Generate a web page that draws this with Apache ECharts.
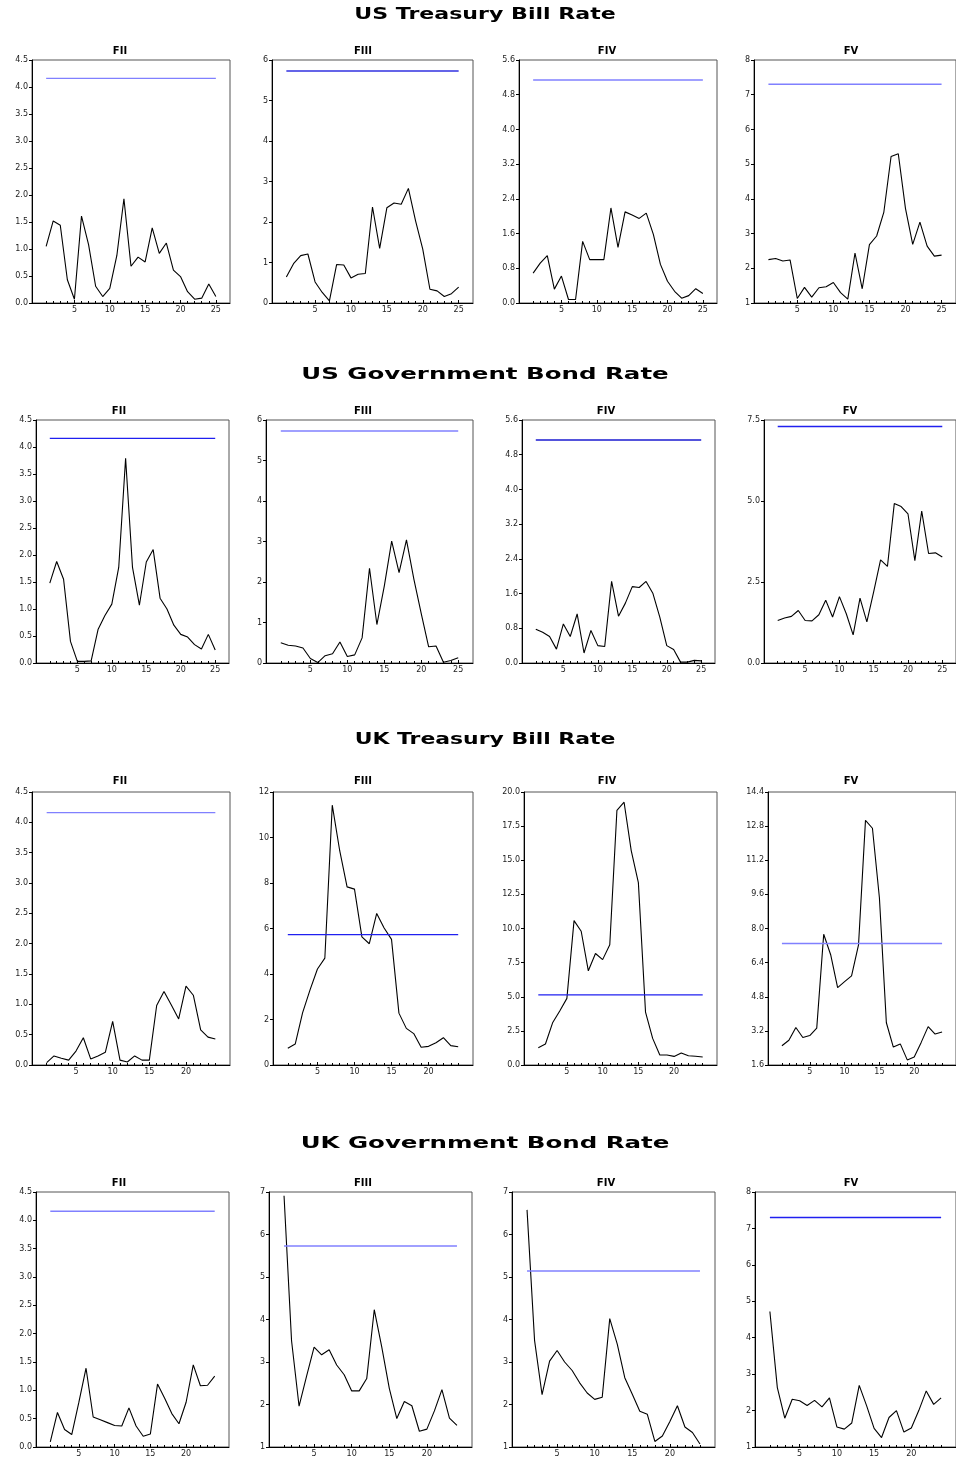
<!DOCTYPE html>
<html>
<head>
<meta charset="utf-8">
<script src="https://cdn.jsdelivr.net/npm/echarts@6/dist/echarts.min.js"></script>
<style>
html,body{margin:0;padding:0;background:#fff;}
#chart{width:956px;height:1458px;}
</style>
</head>
<body>
<div id="chart"></div>
<script>
// ---------------- DATA ----------------
const rowTitles = ['US Treasury Bill Rate', 'US Government Bond Rate', 'UK Treasury Bill Rate', 'UK Government Bond Rate'];
const panelNames = ['FII', 'FIII', 'FIV', 'FV'];

const periodsUS = [1,2,3,4,5,6,7,8,9,10,11,12,13,14,15,16,17,18,19,20,21,22,23,24,25];
const periodsUK = [1,2,3,4,5,6,7,8,9,10,11,12,13,14,15,16,17,18,19,20,21,22,23,24];

// critical values (horizontal reference line)
const criticalValues = [4.16, 5.73, 5.14, 7.30];

// US Treasury Bill Rate
const usTbFII  = [1.05,1.52,1.44,0.43,0.07,1.61,1.08,0.31,0.12,0.27,0.88,1.93,0.68,0.85,0.76,1.39,0.92,1.11,0.61,0.49,0.21,0.07,0.09,0.35,0.12];
const usTbFIII = [0.64,0.97,1.17,1.21,0.52,0.26,0.05,0.95,0.94,0.62,0.71,0.73,2.37,1.35,2.35,2.47,2.44,2.83,2.03,1.33,0.34,0.30,0.16,0.23,0.39];
const usTbFIV  = [0.69,0.92,1.09,0.32,0.62,0.08,0.08,1.42,1.00,1.00,1.00,2.19,1.28,2.10,2.03,1.95,2.07,1.58,0.89,0.50,0.27,0.11,0.17,0.33,0.22];
const usTbFV   = [2.25,2.28,2.21,2.24,1.13,1.45,1.17,1.44,1.47,1.59,1.30,1.11,2.44,1.41,2.68,2.93,3.62,5.22,5.30,3.72,2.69,3.33,2.64,2.35,2.38];

// US Government Bond Rate
const usGbFII  = [1.48,1.88,1.55,0.40,0.03,0.03,0.04,0.62,0.88,1.09,1.77,3.79,1.77,1.07,1.87,2.10,1.20,1.00,0.70,0.53,0.48,0.34,0.26,0.53,0.24];
const usGbFIII = [0.50,0.44,0.42,0.37,0.11,0.01,0.18,0.23,0.52,0.16,0.20,0.62,2.34,0.95,1.90,3.01,2.23,3.04,2.07,1.22,0.40,0.42,0.02,0.06,0.13];
const usGbFIV  = [0.78,0.71,0.61,0.32,0.90,0.61,1.13,0.23,0.75,0.40,0.38,1.88,1.08,1.38,1.76,1.74,1.88,1.60,1.05,0.40,0.31,0.02,0.02,0.06,0.05];
const usGbFV   = [1.31,1.39,1.44,1.62,1.31,1.30,1.49,1.94,1.42,2.05,1.52,0.87,2.00,1.27,2.20,3.18,2.98,4.92,4.83,4.60,3.16,4.69,3.38,3.40,3.27];

// UK Treasury Bill Rate
const ukTbFII  = [0.04,0.15,0.11,0.08,0.23,0.45,0.10,0.15,0.21,0.72,0.08,0.05,0.15,0.08,0.08,0.98,1.21,0.99,0.76,1.30,1.15,0.58,0.46,0.43];
const ukTbFIII = [0.74,0.92,2.30,3.30,4.22,4.70,11.42,9.43,7.83,7.73,5.63,5.33,6.66,6.02,5.52,2.28,1.61,1.38,0.78,0.82,0.98,1.20,0.85,0.80];
const ukTbFIV  = [1.27,1.54,3.09,3.96,4.88,10.58,9.80,6.90,8.17,7.72,8.81,18.66,19.25,15.71,13.36,3.88,1.95,0.73,0.73,0.63,0.88,0.68,0.64,0.59];
const ukTbFV   = [2.50,2.76,3.36,2.89,2.98,3.33,7.73,6.77,5.23,5.51,5.78,7.23,13.07,12.70,9.44,3.58,2.44,2.59,1.84,1.98,2.66,3.40,3.05,3.15];

// UK Government Bond Rate
const ukGbFII  = [0.09,0.61,0.31,0.22,0.79,1.39,0.53,0.48,0.43,0.38,0.37,0.69,0.37,0.19,0.23,1.11,0.86,0.59,0.41,0.79,1.45,1.08,1.09,1.25];
const ukGbFIII = [6.91,3.50,1.96,2.67,3.35,3.17,3.29,2.93,2.70,2.32,2.32,2.61,4.23,3.35,2.38,1.67,2.07,1.97,1.37,1.42,1.85,2.35,1.68,1.51];
const ukGbFIV  = [6.58,3.51,2.23,3.02,3.27,3.00,2.80,2.51,2.27,2.12,2.17,4.02,3.42,2.63,2.24,1.84,1.77,1.13,1.26,1.60,1.97,1.47,1.34,1.07];
const ukGbFV   = [4.72,2.63,1.79,2.31,2.27,2.14,2.28,2.10,2.35,1.55,1.49,1.66,2.69,2.13,1.51,1.26,1.81,2.00,1.41,1.52,2.00,2.54,2.17,2.35];

// y-axis tick settings per panel: [min, max, step, decimals]
const yTicksUsTb = [[0,4.5,0.5,1],[0,6,1,0],[0,5.6,0.8,1],[1,8,1,0]];
const yTicksUsGb = [[0,4.5,0.5,1],[0,6,1,0],[0,5.6,0.8,1],[0,7.5,2.5,1]];
const yTicksUkTb = [[0,4.5,0.5,1],[0,12,2,0],[0,20,2.5,1],[1.6,14.4,1.6,1]];
const yTicksUkGb = [[0,4.5,0.5,1],[1,7,1,0],[1,7,1,0],[1,8,1,0]];

// x-axis tick labels
const xLabelsUS = [5,10,15,20,25];
const xLabelsUK = [5,10,15,20];

// ---------------- LAYOUT / STYLE ----------------
const rows = [
  { periods: periodsUS, xLabels: xLabelsUS, xMax: 27, series: [usTbFII, usTbFIII, usTbFIV, usTbFV], yTicks: yTicksUsTb,
    top: 60, bottom: 303, titleY: 15, titleScale: 1.38, panelTitleY: 51,
    cols: [[32,230],[272,473],[519,717],[754,960]], titleX: [120,363,607,851],
    blue: ['#8080ff','#3030e0','#8080ff','#8080ff'] },
  { periods: periodsUS, xLabels: xLabelsUS, xMax: 27, series: [usGbFII, usGbFIII, usGbFIV, usGbFV], yTicks: yTicksUsGb,
    top: 420, bottom: 663, titleY: 375, titleScale: 1.53, panelTitleY: 411,
    cols: [[36,229],[266,473],[522,715],[764,960]], titleX: [119,363,606,850],
    blue: ['#2020f0','#8080ff','#1a1ad0','#2020f0'] },
  { periods: periodsUK, xLabels: xLabelsUK, xMax: 26, series: [ukTbFII, ukTbFIII, ukTbFIV, ukTbFV], yTicks: yTicksUkTb,
    top: 792, bottom: 1065, titleY: 740, titleScale: 1.37, panelTitleY: 781,
    cols: [[32,230],[273,473],[524,717],[768,960]], titleX: [120,363,607,851],
    blue: ['#8080ff','#2020f0','#2020f0','#8080ff'] },
  { periods: periodsUK, xLabels: xLabelsUK, xMax: 26, series: [ukGbFII, ukGbFIII, ukGbFIV, ukGbFV], yTicks: yTicksUkGb,
    top: 1192, bottom: 1451, titleY: 1144, titleScale: 1.53, panelTitleY: 1183,
    cols: [[36,229],[269,472],[512,715],[755,960]], titleX: [119,363,606,851],
    blue: ['#8080ff','#8080ff','#8080ff','#2020f0'] }
];

const grids = [], xAxes = [], yAxes = [], series = [], graphics = [];
const tickFont = 'DejaVu Sans';

rows.forEach((row, r) => {
  graphics.push({
    type: 'text', x: 485, y: row.titleY, scaleX: row.titleScale,
    style: { text: rowTitles[r], font: 'bold 16px "DejaVu Sans"', fill: '#000', textAlign: 'center', textVerticalAlign: 'middle' }
  });
  for (let c = 0; c < 4; c++) {
    const gi = grids.length;
    const [l, rr] = row.cols[c];
    grids.push({ left: l, top: row.top, width: rr - l, height: row.bottom - row.top,
      show: true, borderColor: '#555', borderWidth: 1, backgroundColor: 'transparent', containLabel: false });
    graphics.push({
      type: 'text', x: row.titleX[c], y: row.panelTitleY,
      style: { text: panelNames[c], font: 'bold 10px "DejaVu Sans"', fill: '#000', textAlign: 'center', textVerticalAlign: 'middle' }
    });
    const [ymin, ymax, ystep, dec] = row.yTicks[c];
    // main x axis (line, labels, major ticks)
    const xMain = xAxes.length;
    xAxes.push({
      type: 'value', gridIndex: gi, position: 'bottom', min: -1, max: row.xMax,
      axisLine: { show: true, onZero: false, lineStyle: { color: '#000', width: 1 } },
      axisTick: { show: true, inside: true, length: 3, customValues: row.xLabels, lineStyle: { color: '#000' } },
      axisLabel: { show: true, customValues: row.xLabels, fontSize: 8, fontFamily: tickFont, color: '#222', margin: 3 },
      splitLine: { show: false }
    });
    // minor ticks
    xAxes.push({
      type: 'value', gridIndex: gi, position: 'bottom', min: -1, max: row.xMax,
      axisLine: { show: false, onZero: false },
      axisTick: { show: true, inside: true, length: 2, customValues: row.periods, lineStyle: { color: '#000' } },
      axisLabel: { show: false },
      splitLine: { show: false }
    });
    const yi = yAxes.length;
    yAxes.push({
      type: 'value', gridIndex: gi, min: ymin, max: ymax, interval: ystep,
      axisLine: { show: true, onZero: false, lineStyle: { color: '#000', width: 1 } },
      axisTick: { show: true, inside: false, length: 3, lineStyle: { color: '#000' } },
      axisLabel: { fontSize: 8, fontFamily: tickFont, color: '#222', margin: 4,
        formatter: v => Number(v).toFixed(dec) },
      splitLine: { show: false }
    });
    const vals = row.series[c];
    series.push({
      type: 'line', xAxisIndex: xMain, yAxisIndex: yi,
      data: row.periods.map((p, i) => [p, vals[i]]),
      symbol: 'none', lineStyle: { color: '#000', width: 1.1 }, silent: true, animation: false
    });
    const cv = criticalValues[c];
    series.push({
      type: 'line', xAxisIndex: xMain, yAxisIndex: yi,
      data: [[row.periods[0], cv], [row.periods[row.periods.length - 1], cv]],
      symbol: 'none', lineStyle: { color: row.blue[c], width: 1.4 }, silent: true, animation: false
    });
  }
});

const chart = echarts.init(document.getElementById('chart'), null, { renderer: 'canvas' });
chart.setOption({
  backgroundColor: '#fff',
  animation: false,
  grid: grids,
  xAxis: xAxes,
  yAxis: yAxes,
  series: series,
  graphic: graphics
});
</script>
</body>
</html>
